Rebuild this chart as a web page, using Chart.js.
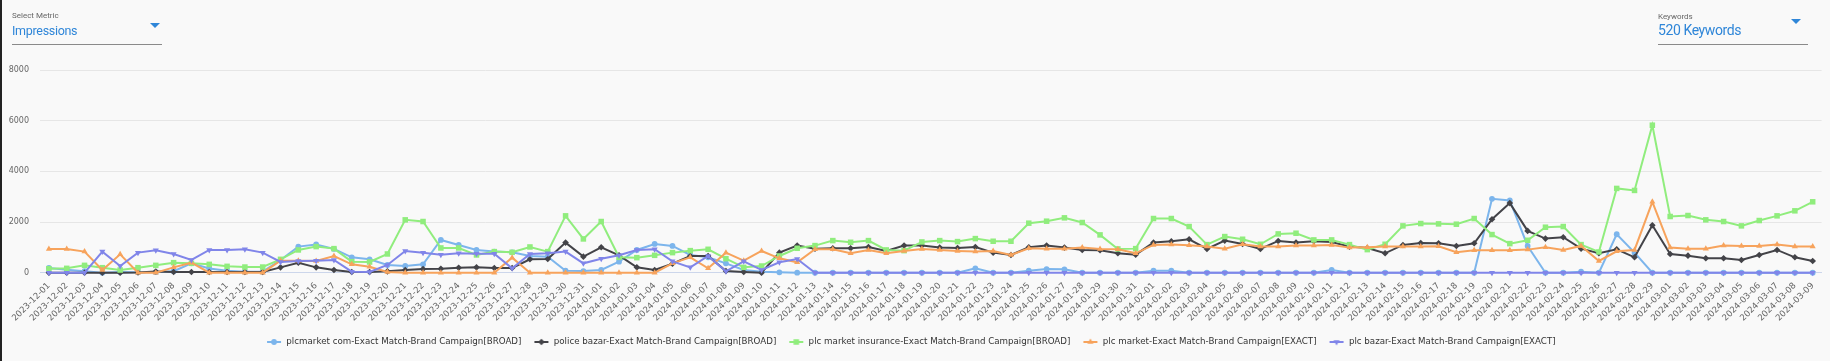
<!DOCTYPE html>
<html><head><meta charset="utf-8">
<script src="https://cdn.jsdelivr.net/npm/chart.js@4.4.1/dist/chart.umd.min.js"></script>
<style>
html,body{margin:0;padding:0;background:#f9f9f9;width:1830px;height:361px;overflow:hidden;font-family:Roboto,"Noto Sans",sans-serif;}
#wrap{position:relative;width:1830px;height:361px;}
#c{position:absolute;left:0;top:0;}
.edge{position:absolute;left:0;top:0;width:2px;height:361px;background:#222;}
.lbl{position:absolute;font-size:8px;line-height:10px;color:#666;white-space:nowrap;}
.val{position:absolute;color:#2f86d8;white-space:nowrap;}
.uline{position:absolute;height:1px;background:#8a8a8a;}
.arrow{position:absolute;width:0;height:0;border-left:5px solid transparent;border-right:5px solid transparent;border-top:5px solid #2f86d8;}
</style></head>
<body>
<div id="wrap">
<canvas id="c" width="1830" height="361"></canvas>
<div class="edge"></div>
<div class="lbl" style="left:12px;top:11px;">Select Metric</div>
<div class="val" style="left:12px;top:23px;font-size:12.5px;line-height:16px;letter-spacing:-0.3px;">Impressions</div>
<div class="arrow" style="left:150px;top:23px;"></div>
<div class="uline" style="left:12px;top:43.5px;width:150px;"></div>
<div class="lbl" style="left:1658px;top:12px;">Keywords</div>
<div class="val" style="left:1658px;top:21.5px;font-size:14px;line-height:17px;letter-spacing:-0.4px;">520 Keywords</div>
<div class="arrow" style="left:1791px;top:19px;"></div>
<div class="uline" style="left:1658px;top:44px;width:150px;"></div>
</div>
<script>
const categories = [
'2023-12-01','2023-12-02','2023-12-03','2023-12-04','2023-12-05','2023-12-06','2023-12-07','2023-12-08','2023-12-09','2023-12-10',
'2023-12-11','2023-12-12','2023-12-13','2023-12-14','2023-12-15','2023-12-16','2023-12-17','2023-12-18','2023-12-19','2023-12-20',
'2023-12-21','2023-12-22','2023-12-23','2023-12-24','2023-12-25','2023-12-26','2023-12-27','2023-12-28','2023-12-29','2023-12-30',
'2023-12-31','2024-01-01','2024-01-02','2024-01-03','2024-01-04','2024-01-05','2024-01-06','2024-01-07','2024-01-08','2024-01-09',
'2024-01-10','2024-01-11','2024-01-12','2024-01-13','2024-01-14','2024-01-15','2024-01-16','2024-01-17','2024-01-18','2024-01-19',
'2024-01-20','2024-01-21','2024-01-22','2024-01-23','2024-01-24','2024-01-25','2024-01-26','2024-01-27','2024-01-28','2024-01-29',
'2024-01-30','2024-01-31','2024-02-01','2024-02-02','2024-02-03','2024-02-04','2024-02-05','2024-02-06','2024-02-07','2024-02-08',
'2024-02-09','2024-02-10','2024-02-11','2024-02-12','2024-02-13','2024-02-14','2024-02-15','2024-02-16','2024-02-17','2024-02-18',
'2024-02-19','2024-02-20','2024-02-21','2024-02-22','2024-02-23','2024-02-24','2024-02-25','2024-02-26','2024-02-27','2024-02-28',
'2024-02-29','2024-03-01','2024-03-02','2024-03-03','2024-03-04','2024-03-05','2024-03-06','2024-03-07','2024-03-08','2024-03-09'
];
const seriesNames = [
'plcmarket com-Exact Match-Brand Campaign[BROAD]',
'police bazar-Exact Match-Brand Campaign[BROAD]',
'plc market insurance-Exact Match-Brand Campaign[BROAD]',
'plc market-Exact Match-Brand Campaign[EXACT]',
'plc bazar-Exact Match-Brand Campaign[EXACT]'
];
const plcmarketCom = [
185,120,60,0,30,20,20,60,370,170,
80,40,40,500,1030,1115,937,607,528,304,
264,330,1294,1096,898,832,805,660,634,80,
66,106,436,898,1135,1056,700,607,370,106,
40,13,0,0,0,0,0,0,0,0,
0,0,172,0,0,80,145,132,0,0,
0,0,80,80,0,0,0,0,0,0,
0,0,106,0,0,0,0,0,0,0,
0,2917,2851,1056,0,0,40,0,1518,792,
0,0,0,0,0,0,0,0,0,0
];
const policeBazar = [
0,0,0,0,0,10,50,30,30,30,
30,30,30,211,396,211,106,26,26,53,
106,145,158,198,211,185,185,528,541,1188,
634,1003,686,211,106,356,660,660,66,26,
0,792,1070,950,964,964,1016,858,1070,1070,
990,977,1016,792,700,1003,1070,990,898,884,
766,713,1188,1241,1320,937,1267,1135,937,1254,
1188,1241,1214,1030,977,766,1096,1175,1162,1056,
1162,2112,2746,1650,1346,1399,950,766,924,607,
1874,739,673,568,568,502,700,898,607,462
];
const plcMarketInsurance = [
158,172,290,198,106,198,290,396,370,330,
251,224,224,528,898,1030,950,436,422,739,
2086,2020,977,977,700,832,805,1016,832,2244,
1333,2020,607,594,686,792,871,924,554,211,
264,660,964,1070,1267,1201,1267,898,871,1214,
1267,1228,1346,1241,1241,1954,2033,2165,1980,1492,
937,950,2138,2138,1822,1109,1426,1320,1122,1531,
1558,1294,1294,1109,911,1122,1848,1940,1927,1914,
2138,1505,1148,1280,1795,1822,1109,818,3326,3247,
5821,2218,2257,2086,2020,1848,2059,2244,2442,2798
];
const plcMarket = [
937,937,832,105,726,0,0,211,396,0,
0,0,0,475,475,462,660,330,238,26,
0,0,0,0,0,0,594,0,0,0,
0,0,0,0,0,370,607,172,792,475,
858,568,409,924,924,766,891,766,858,937,
898,858,832,858,700,964,950,950,990,937,
924,766,1096,1109,1082,1030,950,1122,1030,1030,
1069,1069,1096,990,1003,1030,1030,1030,1043,805,
884,884,884,911,1003,898,1056,462,845,898,
2798,990,950,950,1069,1056,1056,1109,1030,1030
];
const plcBazar = [
0,0,0,832,264,792,884,739,502,898,
898,924,792,422,462,475,502,40,26,304,
858,792,713,766,752,752,172,739,766,832,
370,554,686,898,924,449,211,660,53,449,
106,409,541,0,0,0,0,0,0,0,
0,0,0,0,0,0,0,0,0,0,
0,0,0,0,0,0,0,0,0,0,
0,0,0,0,0,0,0,0,0,0,
0,0,0,0,0,0,0,0,0,0,
0,0,0,0,0,0,0,0,0,0
];
const yTickValues = [0, 2000, 4000, 6000, 8000];

const seriesData = [plcmarketCom, policeBazar, plcMarketInsurance, plcMarket, plcBazar];
const colors = ['#7cb5ec', '#434348', '#90ed7d', '#f7a35c', '#8085e9'];
const styles = [
  {pointStyle:'circle', radius:2.9, rotation:0},
  {pointStyle:'rectRot', radius:3.3, rotation:0},
  {pointStyle:'rect', radius:3.9, rotation:0},
  {pointStyle:'triangle', radius:3.5, rotation:0},
  {pointStyle:'triangle', radius:3.5, rotation:180}
];

function makeSymbol(color, st) {
  const cv = document.createElement('canvas');
  cv.width = 16; cv.height = 10;
  const ctx = cv.getContext('2d');
  ctx.strokeStyle = color; ctx.lineWidth = 2;
  ctx.beginPath(); ctx.moveTo(1, 5); ctx.lineTo(15, 5); ctx.stroke();
  ctx.fillStyle = color;
  Chart.helpers.drawPoint(ctx, {pointStyle: st.pointStyle, radius: st.radius, rotation: st.rotation, borderWidth: 0}, 8, 5);
  return cv;
}
const symbols = colors.map((c, i) => makeSymbol(c, styles[i]));

const datasets = seriesData.map((d, i) => ({
  label: seriesNames[i],
  data: d,
  borderColor: colors[i],
  backgroundColor: colors[i],
  borderWidth: 2,
  pointStyle: styles[i].pointStyle,
  pointRadius: styles[i].radius,
  pointRotation: styles[i].rotation,
  pointBackgroundColor: colors[i],
  pointBorderColor: colors[i],
  pointBorderWidth: 0,
  pointHoverRadius: styles[i].radius,
  tension: 0,
  clip: false,
  order: 4 - i
}));

const FONT = 'DejaVu Sans';
new Chart(document.getElementById('c'), {
  type: 'line',
  data: { labels: categories, datasets },
  options: {
    responsive: false,
    devicePixelRatio: 1,
    animation: false,
    events: [],
    layout: { padding: { top: 70, right: 8.4, bottom: 4.65, left: 0 } },
    scales: {
      x: {
        type: 'category',
        offset: true,
        grid: { display: false, drawTicks: false },
        border: { display: true, color: '#ccd6eb', width: 1 },
        ticks: { autoSkip: false, maxRotation: 45, minRotation: 45, padding: 8,
                 font: { family: FONT, size: 8.6 }, color: '#666666' },
        afterFit: (s) => { s.height = 52.95; }
      },
      y: {
        min: yTickValues[0], max: yTickValues[yTickValues.length - 1],
        afterBuildTicks: (s) => { s.ticks = yTickValues.map(v => ({ value: v })); },
        grid: { color: '#e6e6e6', lineWidth: 1, drawTicks: false },
        border: { display: false },
        ticks: { padding: 11, font: { family: FONT, size: 8 }, color: '#666666',
                 callback: (v) => String(v) },
        afterFit: (s) => { s.width = 40; }
      }
    },
    plugins: {
      tooltip: { enabled: false },
      legend: {
        display: true,
        position: 'bottom',
        align: 'center',
        labels: {
          usePointStyle: true,
          pointStyleWidth: 16,
          padding: 12,
          color: '#333333',
          font: { family: FONT, size: 8.7 },
          sort: (a, b) => a.datasetIndex - b.datasetIndex,
          generateLabels: (chart) => {
            const items = Chart.defaults.plugins.legend.labels.generateLabels(chart);
            items.forEach(it => { it.pointStyle = symbols[it.datasetIndex]; it.rotation = 0; });
            return items;
          }
        }
      }
    }
  }
});
</script>
</body></html>
